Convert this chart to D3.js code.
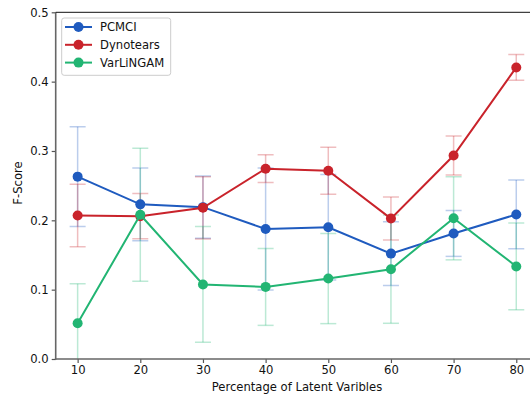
<!DOCTYPE html>
<html>
<head>
<meta charset="utf-8">
<script src="https://cdn.jsdelivr.net/npm/d3@7"></script>
<style>
  body { margin: 0; background: #fff; }
  svg { display: block; }
  text { font-family: "DejaVu Sans", sans-serif; }
</style>
</head>
<body>
<svg id="chart" width="530" height="396"></svg>
<script>
// ---- data ----
const xValues = [10, 20, 30, 40, 50, 60, 70, 80];
const seriesNames = ["PCMCI", "Dynotears", "VarLiNGAM"];
const pcmciMean = [0.263, 0.223, 0.219, 0.1875, 0.190, 0.152, 0.181, 0.2085];
const pcmciErr  = [0.072, 0.0525, 0.045, 0.088, 0.076, 0.046, 0.033, 0.0495];
const dynoMean  = [0.207, 0.206, 0.218, 0.2745, 0.2715, 0.2025, 0.2935, 0.4205];
const dynoErr   = [0.045, 0.0325, 0.045, 0.020, 0.034, 0.031, 0.028, 0.0185];
const varMean   = [0.0515, 0.208, 0.1075, 0.104, 0.116, 0.1295, 0.203, 0.1335];
const varErr    = [0.057, 0.096, 0.0835, 0.0555, 0.065, 0.078, 0.060, 0.0625];
const xTicks = [10, 20, 30, 40, 50, 60, 70, 80];
const yTicks = [0.0, 0.1, 0.2, 0.3, 0.4, 0.5];
const colors = ["#1f5bbf", "#c9232b", "#22b573"];

(function () {
const series = [
  { name: seriesNames[0], mean: pcmciMean, err: pcmciErr, color: colors[0] },
  { name: seriesNames[1], mean: dynoMean,  err: dynoErr,  color: colors[1] },
  { name: seriesNames[2], mean: varMean,   err: varErr,   color: colors[2] }
];

const svg = d3.select("#chart");
const pL = 55.7, pR = 538.2, pT = 12.3, pB = 359;
const x = d3.scaleLinear().domain([6.5, 83.5]).range([pL, pR]);
const y = d3.scaleLinear().domain([0, 0.5]).range([pB, pT]);
const fs = "11.6px";

svg.append("defs").append("clipPath").attr("id", "clip")
  .append("rect").attr("x", pL).attr("y", pT).attr("width", pR - pL).attr("height", pB - pT);

const plot = svg.append("g").attr("clip-path", "url(#clip)");

// error bars
series.forEach(s => {
  const g = plot.append("g").attr("stroke", s.color).attr("stroke-opacity", 0.3).attr("stroke-width", 1.5);
  xValues.forEach((xv, i) => {
    const lo = s.mean[i] - s.err[i], hi = s.mean[i] + s.err[i];
    const cx = x(xv);
    g.append("line").attr("x1", cx).attr("x2", cx).attr("y1", y(lo)).attr("y2", y(hi));
    g.append("line").attr("x1", cx - 8).attr("x2", cx + 8).attr("y1", y(lo)).attr("y2", y(lo));
    g.append("line").attr("x1", cx - 8).attr("x2", cx + 8).attr("y1", y(hi)).attr("y2", y(hi));
  });
});

// lines + markers
const line = d3.line().x(d => x(d[0])).y(d => y(d[1]));
series.forEach(s => {
  const pts = xValues.map((xv, i) => [xv, s.mean[i]]);
  plot.append("path").datum(pts).attr("d", line)
    .attr("fill", "none").attr("stroke", s.color).attr("stroke-width", 2);
  plot.selectAll(null).data(pts).enter().append("circle")
    .attr("cx", d => x(d[0])).attr("cy", d => y(d[1])).attr("r", 5)
    .attr("fill", s.color);
});

// axes
const xAxis = svg.append("g").attr("transform", `translate(0,${pB})`)
  .call(d3.axisBottom(x).tickValues(xTicks).tickSize(4).tickPadding(3).tickFormat(d3.format("d")));
const yAxis = svg.append("g").attr("transform", `translate(${pL},0)`)
  .call(d3.axisLeft(y).tickValues(yTicks).tickSize(4).tickPadding(3).tickFormat(d3.format(".1f")));
[xAxis, yAxis].forEach(a => {
  a.select(".domain").remove();
  a.selectAll(".tick line").attr("stroke", "#555").attr("stroke-width", 1.2);
  a.selectAll(".tick text").attr("fill", "#111").style("font-size", fs).style("font-family", "DejaVu Sans");
});

// spines
svg.append("line").attr("x1", pL).attr("x2", pL).attr("y1", pT).attr("y2", pB + 0.8)
  .attr("stroke", "#666").attr("stroke-width", 1.6);
svg.append("line").attr("x1", pL - 0.8).attr("x2", pR).attr("y1", pB).attr("y2", pB)
  .attr("stroke", "#666").attr("stroke-width", 1.6);
svg.append("line").attr("x1", pL).attr("x2", pR).attr("y1", pT).attr("y2", pT)
  .attr("stroke", "#111").attr("stroke-width", 1);

// labels
svg.append("text").attr("x", (pL + pR) / 2).attr("y", 391)
  .attr("text-anchor", "middle").style("font-size", fs).attr("fill", "#111")
  .text("Percentage of Latent Varibles");
svg.append("text").attr("transform", "translate(22,183) rotate(-90)")
  .attr("text-anchor", "middle").style("font-size", fs).attr("fill", "#111")
  .text("F-Score");

// legend
const lg = svg.append("g");
lg.append("rect").attr("x", 61.7).attr("y", 18).attr("width", 109).attr("height", 57.3)
  .attr("rx", 2.5).attr("fill", "#fff").attr("fill-opacity", 0.85)
  .attr("stroke", "#ccc").attr("stroke-width", 1);
series.forEach((s, i) => {
  const yy = 27 + i * 17.8;
  lg.append("line").attr("x1", 65).attr("x2", 92).attr("y1", yy).attr("y2", yy)
    .attr("stroke", s.color).attr("stroke-width", 2);
  lg.append("circle").attr("cx", 78.5).attr("cy", yy).attr("r", 5).attr("fill", s.color);
  lg.append("text").attr("x", 100).attr("y", yy).attr("dy", "0.36em")
    .style("font-size", fs).attr("fill", "#111").text(s.name);
});
})();
</script>
</body>
</html>
